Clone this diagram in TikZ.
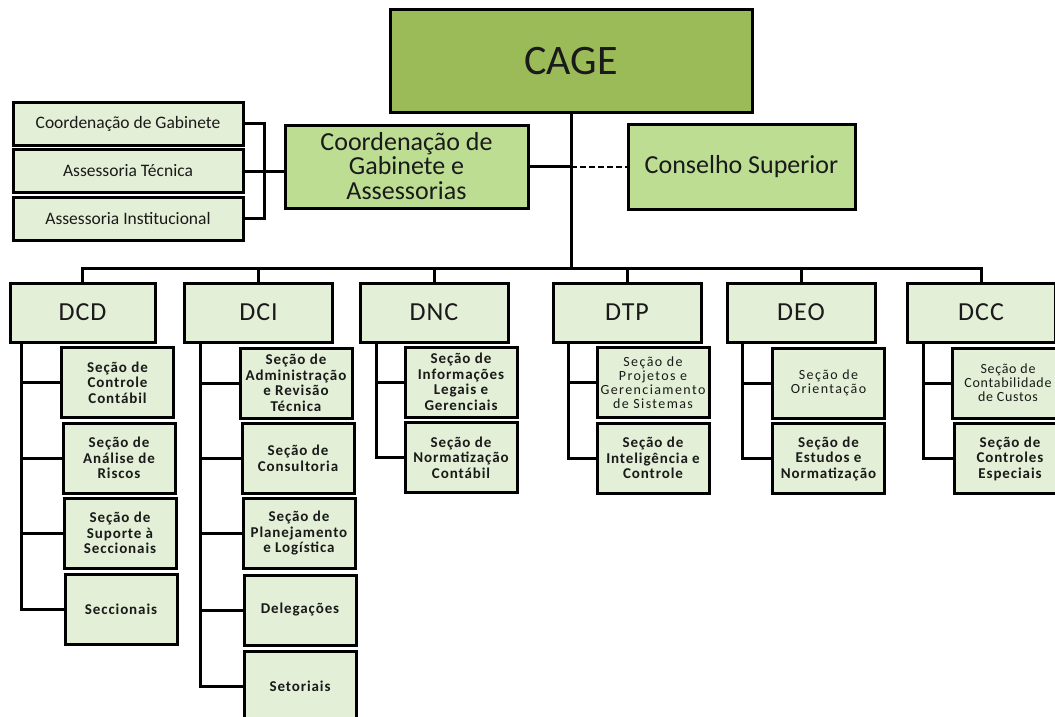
\documentclass[tikz,border=0pt]{standalone}
\usepackage{fontspec}
\setmainfont{Carlito}
\definecolor{cagegreen}{HTML}{9BBB59}
\definecolor{midgreen}{HTML}{BCDD92}
\definecolor{palegreen}{HTML}{E3EFD6}
\definecolor{txt}{HTML}{1A1A1A}
\begin{document}
\begin{tikzpicture}[x=1pt,y=-1pt,
  box/.style={draw=black, line width=3pt, rectangle, inner sep=0pt, align=center, text=txt},
  topbox/.style={box, fill=cagegreen, minimum width=362pt, minimum height=102pt, font=\fontsize{42}{44}\selectfont},
  midbox/.style={box, fill=midgreen, font=\fontsize{26}{26.5}\selectfont},
  leftbox/.style={box, fill=palegreen, minimum width=230pt, minimum height=43pt, font=\fontsize{17.5}{18}\selectfont},
  divbox/.style={box, fill=palegreen, minimum width=148pt, minimum height=59pt, font=\fontsize{26}{28}\selectfont\addfontfeature{LetterSpace=4}},
  subbox/.style={box, fill=palegreen, minimum width=112pt, minimum height=70pt, font=\bfseries\fontsize{15}{15.5}\selectfont\addfontfeature{LetterSpace=6}},
  subthin/.style={subbox, font=\fontsize{14}{14}\selectfont\addfontfeature{LetterSpace=10}},
  link/.style={line width=3pt, draw=black}
]
\clip (0,0) rectangle (1055,717);
\fill[white] (0,0) rectangle (1055,717);

% top level
\node[topbox] (cage) at (571,61) {CAGE};
\node[midbox, minimum width=243pt, minimum height=83pt] (coord) at (406.5,166.5) {\raisebox{-3pt}[\height][\depth]{\begin{tabular}{@{}c@{}}Coordenação de\\[-2pt]Gabinete e\\[-2pt]Assessorias\end{tabular}}};
\node[midbox, minimum width=227pt, minimum height=85pt] (cons) at (741.5,166.5) {Conselho Superior};

\node[leftbox] (lb1) at (128,123.5) {Coordenação de Gabinete};
\node[leftbox] (lb2) at (128,171) {Assessoria Técnica};
\node[leftbox] (lb3) at (128,218.5) {Assessoria Institucional};

% divisions
\node[divbox, minimum width=145pt] (dcd) at (82.5,312.5) {DCD};
\node[divbox] (dci) at (258.5,312.5) {DCI};
\node[divbox] (dnc) at (434,312.5) {DNC};
\node[divbox] (dtp) at (627,312.5) {DTP};
\node[divbox] (deo) at (801,312.5) {DEO};
\node[divbox] (dcc) at (981,312.5) {DCC};

% DCD sections
\node[subbox] (dcd1) at (117.5,382.5) {Seção de\\Controle\\Contábil};
\node[subbox] (dcd2) at (119,458) {Seção de\\Análise de\\Riscos};
\node[subbox] (dcd3) at (120,533) {Seção de\\Suporte à\\Seccionais};
\node[subbox] (dcd4) at (121,609) {Seccionais};

% DCI sections
\node[subbox] (dci1) at (296,383) {Seção de\\Administração\\e Revisão\\Técnica};
\node[subbox] (dci2) at (298,458.5) {Seção de\\Consultoria};
\node[subbox] (dci3) at (299,533.5) {Seção de\\Planejamento\\e Logística};
\node[subbox] (dci4) at (300,610) {Delegações};
\node[subbox] (dci5) at (300,686) {Setoriais};

% DNC sections
\node[subbox] (dnc1) at (461,382) {Seção de\\Informações\\Legais e\\Gerenciais};
\node[subbox] (dnc2) at (461,457.5) {Seção de\\Normatização\\Contábil};

% DTP sections
\node[subthin] (dtp1) at (653,382.5) {Seção de\\Projetos e\\Gerenciamento\\de Sistemas};
\node[subbox] (dtp2) at (653,458) {Seção de\\Inteligência e\\Controle};

% DEO sections
\node[subthin] (deo1) at (828.5,383) {Seção de\\Orientação};
\node[subbox] (deo2) at (828.5,458.5) {Seção de\\Estudos e\\Normatização};

% DCC sections
\node[subthin, font=\fontsize{14}{14}\selectfont\addfontfeature{LetterSpace=5}] (dcc1) at (1008,383) {Seção de\\Contabilidade\\de Custos};
\node[subbox] (dcc2) at (1010,458.5) {Seção de\\Controles\\Especiais};

% connectors: top
\coordinate (busl) at ([yshift=13pt]dcd.north);
\draw[link] (cage.south) -- (cage.south |- busl);
\draw[link] (coord.east) -- (coord.east -| cage.south);
\draw[line width=2pt, dash pattern=on 6pt off 3pt] (coord.east -| cage.south) -- (cons.west);

% left bracket
\draw[link] (lb1.east) -- ++(20,0) |- (lb3.east);
\draw[link] (lb2.east) -- (lb2.east -| coord.west);

% bus
\draw[link] (dcd.north) -- (busl) -| (dcc.north);
\foreach \d in {dci,dnc,dtp,deo}
  \draw[link] (\d.north) -- (\d.north |- busl);

% section connectors
\foreach \s in {dcd1,dcd2,dcd3,dcd4}
  \draw[link] ([xshift=13pt]dcd.south west) |- (\s.west);
\foreach \s in {dci1,dci2,dci3,dci4,dci5}
  \draw[link] ([xshift=17.5pt]dci.south west) |- (\s.west);
\foreach \s in {dnc1,dnc2}
  \draw[link] ([xshift=18pt]dnc.south west) |- (\s.west);
\foreach \s in {dtp1,dtp2}
  \draw[link] ([xshift=17pt]dtp.south west) |- (\s.west);
\foreach \s in {deo1,deo2}
  \draw[link] ([xshift=17pt]deo.south west) |- (\s.west);
\foreach \s in {dcc1,dcc2}
  \draw[link] ([xshift=18pt]dcc.south west) |- (\s.west);
\end{tikzpicture}
\end{document}
